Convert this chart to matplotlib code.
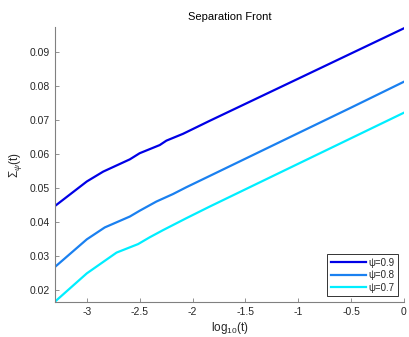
import numpy as np
import matplotlib
matplotlib.use("Agg")
import matplotlib.pyplot as plt

plt.rcParams['font.family'] = ['Liberation Sans', 'DejaVu Sans']
plt.rcParams['mathtext.fontset'] = 'custom'
plt.rcParams['mathtext.rm'] = 'Liberation Sans'
plt.rcParams['mathtext.it'] = 'Liberation Sans:italic'

# front position vs log10 time for each psi
log_t_09 = [-3.301, -3.0, -2.845, -2.593, -2.5, -2.31, -2.247, -2.09, -1.839, -1.0, -0.5, 0.0]
sigma_09 = [0.0447, 0.0519, 0.0548, 0.0584, 0.0602, 0.0626, 0.0639, 0.0659, 0.0697, 0.0821, 0.0895, 0.0969]

log_t_08 = [-3.301, -3.0, -2.83, -2.593, -2.5, -2.342, -2.185, -2.059, -1.839, -1.0, -0.5, 0.0]
sigma_08 = [0.0268, 0.0349, 0.0384, 0.0416, 0.0433, 0.0460, 0.0482, 0.0502, 0.0535, 0.0661, 0.0736, 0.0812]

log_t_07 = [-3.301, -3.0, -2.719, -2.515, -2.405, -2.279, -2.059, -1.839, -1.0, -0.5, 0.0]
sigma_07 = [0.0166, 0.0249, 0.0310, 0.0335, 0.0355, 0.0376, 0.0411, 0.0445, 0.0571, 0.0646, 0.0721]

labels = ['ψ=0.9', 'ψ=0.8', 'ψ=0.7']
colors = ['#0000e6', '#1a80f0', '#00eeff']

fig = plt.figure(figsize=(4.09, 3.37), dpi=100)
ax = fig.add_axes([0.1345, 0.104, 0.853, 0.816])

ax.plot(log_t_09, sigma_09, color=colors[0], lw=1.6, label=labels[0])
ax.plot(log_t_08, sigma_08, color=colors[1], lw=1.6, label=labels[1])
ax.plot(log_t_07, sigma_07, color=colors[2], lw=1.6, label=labels[2])

ax.set_xlim(-3.301, 0)
ax.set_ylim(0.0165, 0.0973)
ax.set_xticks([-3, -2.5, -2, -1.5, -1, -0.5, 0])
ax.set_xticklabels(['-3', '-2.5', '-2', '-1.5', '-1', '-0.5', '0'])
ax.set_yticks([0.02, 0.03, 0.04, 0.05, 0.06, 0.07, 0.08, 0.09])

grey = '#262626'
for side in ['top', 'right']:
    ax.spines[side].set_visible(False)
for side in ['left', 'bottom']:
    ax.spines[side].set_color('#808080')
    ax.spines[side].set_linewidth(0.8)
ax.tick_params(direction='in', length=3, width=0.6, colors='#808080',
               labelcolor=grey, labelsize=7.5)

ax.set_title('Separation Front', fontsize=8, color='black', pad=5)
ax.set_xlabel(r'$\mathrm{log}_{10}\mathrm{(t)}$', fontsize=8.5, color=grey, labelpad=2)
ax.set_ylabel(r'$\Sigma_{\psi}\mathrm{(t)}$', fontsize=8.5, color=grey, labelpad=4)

leg = ax.legend(loc='lower right', fontsize=7, frameon=True, fancybox=False,
                handlelength=3.6, handletextpad=0.3, borderpad=0.35,
                labelspacing=0.25, borderaxespad=0.6)
leg.get_frame().set_edgecolor('black')
leg.get_frame().set_linewidth(0.7)
for t in leg.get_texts():
    t.set_color(grey)

fig.savefig('out.png', dpi=100)
